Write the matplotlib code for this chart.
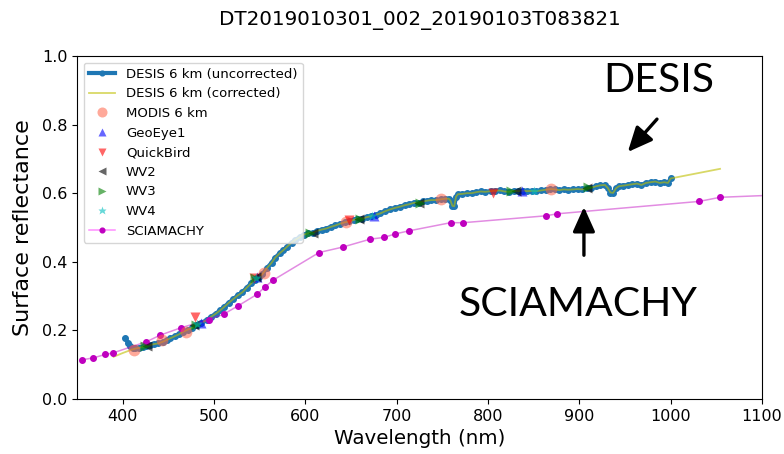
import matplotlib
matplotlib.use("Agg")
import matplotlib.pyplot as plt
import numpy as np
from matplotlib.patches import FancyArrowPatch

TITLE = "DT2019010301_002_20190103T083821"

# DESIS 6 km spectrum (uncorrected)
desis_wl = [
    403, 406, 408, 411, 414, 418, 422, 426, 430, 434, 439, 444, 448, 452, 457,
    462, 466, 471, 476, 481, 486, 492, 497, 502, 507, 511, 516, 521, 526, 531,
    536, 541, 545, 549, 553, 558, 563, 567, 572, 576, 580, 585, 589, 594, 598,
    603, 608, 613, 618, 623, 628, 633, 638, 643, 648, 653, 657, 662, 667, 672,
    677, 682, 687, 693, 698, 704, 709, 714, 719, 724, 729, 733, 738, 743, 748,
    753, 757, 759, 761, 763, 765, 767, 772, 777, 782, 787, 792, 797, 803, 808,
    813, 818, 823, 828, 833, 838, 843, 848, 853, 858, 863, 868, 873, 878, 883,
    888, 893, 898, 903, 908, 913, 918, 923, 928, 931, 934, 937, 940, 943, 948,
    953, 958, 963, 968, 973, 978, 983, 988, 993, 997, 1000,
]
desis_uncorr = [
    0.177, 0.163, 0.155, 0.150, 0.148, 0.149, 0.152, 0.155, 0.157, 0.160, 0.162, 0.167, 0.172, 0.177, 0.183,
    0.189, 0.196, 0.202, 0.208, 0.216, 0.222, 0.230, 0.240, 0.249, 0.259, 0.268, 0.280, 0.291, 0.302, 0.311,
    0.325, 0.338, 0.347, 0.355, 0.364, 0.382, 0.397, 0.412, 0.425, 0.434, 0.444, 0.456, 0.464, 0.472, 0.479,
    0.483, 0.485, 0.490, 0.494, 0.497, 0.502, 0.506, 0.511, 0.515, 0.518, 0.522, 0.526, 0.526, 0.530, 0.533,
    0.537, 0.541, 0.547, 0.553, 0.557, 0.561, 0.565, 0.568, 0.572, 0.572, 0.576, 0.578, 0.580, 0.580, 0.582,
    0.584, 0.584, 0.578, 0.563, 0.562, 0.590, 0.597, 0.598, 0.600, 0.600, 0.603, 0.605, 0.604, 0.606, 0.607,
    0.608, 0.605, 0.604, 0.607, 0.606, 0.607, 0.606, 0.607, 0.606, 0.608, 0.610, 0.612, 0.611, 0.609, 0.611,
    0.610, 0.611, 0.612, 0.611, 0.614, 0.616, 0.620, 0.623, 0.624, 0.616, 0.602, 0.601, 0.614, 0.620, 0.622,
    0.624, 0.626, 0.628, 0.624, 0.630, 0.632, 0.634, 0.630, 0.632, 0.630, 0.643,
]

# corrected spectrum: differs only at the short-wave start and the extension past 1000 nm
corr_head_wl = [390, 400, 405, 410, 414]
corr_head = [0.123, 0.134, 0.139, 0.144, 0.147]
corr_tail_wl = [1054]
corr_tail = [0.671]

modis_wl = [412, 443, 469, 555, 645, 748, 869]
modis_val = [0.142, 0.172, 0.196, 0.366, 0.517, 0.582, 0.611]

geoeye_wl = [486, 547, 675, 837]
geoeye_val = [0.221, 0.355, 0.533, 0.606]

quickbird_wl = [479, 544, 648, 805]
quickbird_val = [0.240, 0.352, 0.522, 0.600]

wv2_wl = [427, 478, 546, 608, 659, 724, 831, 908]
wv2_val = [0.155, 0.215, 0.355, 0.484, 0.524, 0.570, 0.606, 0.616]

wv3_wl = [425, 480, 545, 605, 660, 725, 825, 909]
wv3_val = [0.156, 0.217, 0.354, 0.484, 0.524, 0.570, 0.606, 0.617]

wv4_wl = [481, 546, 673, 850]
wv4_val = [0.218, 0.352, 0.534, 0.606]

scia_wl = [
    355, 368, 381, 389, 426, 441, 464, 494, 511, 526, 547, 556, 565, 615,
    641, 671, 686, 698, 713, 759, 773, 863, 876, 1031, 1054, 1110,
]
scia_val = [
    0.114, 0.120, 0.130, 0.134, 0.167, 0.186, 0.208, 0.231, 0.248, 0.271, 0.305, 0.327, 0.347, 0.427,
    0.443, 0.466, 0.471, 0.481, 0.490, 0.514, 0.514, 0.534, 0.540, 0.576, 0.588, 0.594,
]

XTICKS = [400, 500, 600, 700, 800, 900, 1000, 1100]
YTICKS = [0.0, 0.2, 0.4, 0.6, 0.8, 1.0]


def main() -> None:
    plt.rcParams["font.family"] = ["DejaVu Sans"]
    fig = plt.figure(figsize=(7.84, 4.54), dpi=100)
    ax = fig.add_axes([0.0982, 0.1211, 0.8738, 0.7556])

    corr_wl = np.concatenate([corr_head_wl, [w for w in desis_wl if w > 414], corr_tail_wl])
    corr_val = np.concatenate([corr_head, [v for w, v in zip(desis_wl, desis_uncorr) if w > 414], corr_tail])

    ax.plot(desis_wl, desis_uncorr, ".-", color="#1f77b4", lw=3, ms=8,
            label="DESIS 6 km (uncorrected)", zorder=2)
    ax.plot(corr_wl, corr_val, "-", color="y", alpha=0.6, lw=1.3,
            label="DESIS 6 km (corrected)", zorder=3)
    ax.plot(modis_wl, modis_val, "o", color="tomato", alpha=0.55, ms=8.5,
            mec="none", label="MODIS 6 km", zorder=4)
    ax.plot(geoeye_wl, geoeye_val, "^", color="b", alpha=0.6, ms=7.5,
            mec="none", label="GeoEye1", zorder=4)
    ax.plot(quickbird_wl, quickbird_val, "v", color="r", alpha=0.6, ms=7.5,
            mec="none", label="QuickBird", zorder=4)
    ax.plot(wv2_wl, wv2_val, "<", color="k", alpha=0.6, ms=7.5,
            mec="none", label="WV2", zorder=4)
    ax.plot(wv3_wl, wv3_val, ">", color="g", alpha=0.6, ms=7.5,
            mec="none", label="WV3", zorder=4)
    ax.plot(wv4_wl, wv4_val, "*", color="c", alpha=0.6, ms=7.5,
            mec="none", label="WV4", zorder=4)
    ax.plot(scia_wl, scia_val, "-", color="m", alpha=0.45, lw=1.1, zorder=3)
    ax.plot(scia_wl, scia_val, ".", color="m", ms=8, zorder=3)
    # legend proxy for the SCIAMACHY line + dots
    ax.plot([], [], ".-", color=(1, 0, 1, 0.45), mfc="m", mec="m", ms=8, lw=1.1,
            label="SCIAMACHY")

    ax.set_xlim(350, 1100)
    ax.set_ylim(0, 1.0)
    ax.set_xticks(XTICKS)
    ax.set_yticks(YTICKS)
    ax.tick_params(labelsize=11.5)
    ax.set_xlabel("Wavelength (nm)", fontsize=14.3)
    ax.set_ylabel("Surface reflectance", fontsize=16, labelpad=6)
    ax.set_title(TITLE, fontsize=14.3, pad=22)

    ax.legend(loc="upper left", fontsize=9.5, labelspacing=0.5, markerscale=0.85)

    # callouts
    ax.text(987, 0.928, "DESIS", fontsize=29.5, family="Lato", ha="center", va="center")
    ax.text(899, 0.276, "SCIAMACHY", fontsize=29.5, family="Lato", ha="center", va="center")
    for start, end in [((987, 0.822), (951, 0.714)), ((905, 0.411), (905, 0.568))]:
        ax.add_patch(FancyArrowPatch(start, end, arrowstyle="-|>,head_width=0.45,head_length=1.0",
                                     mutation_scale=15, color="black", lw=2.4, zorder=6))

    fig.savefig("out.png", dpi=100)


if __name__ == "__main__":
    main()
